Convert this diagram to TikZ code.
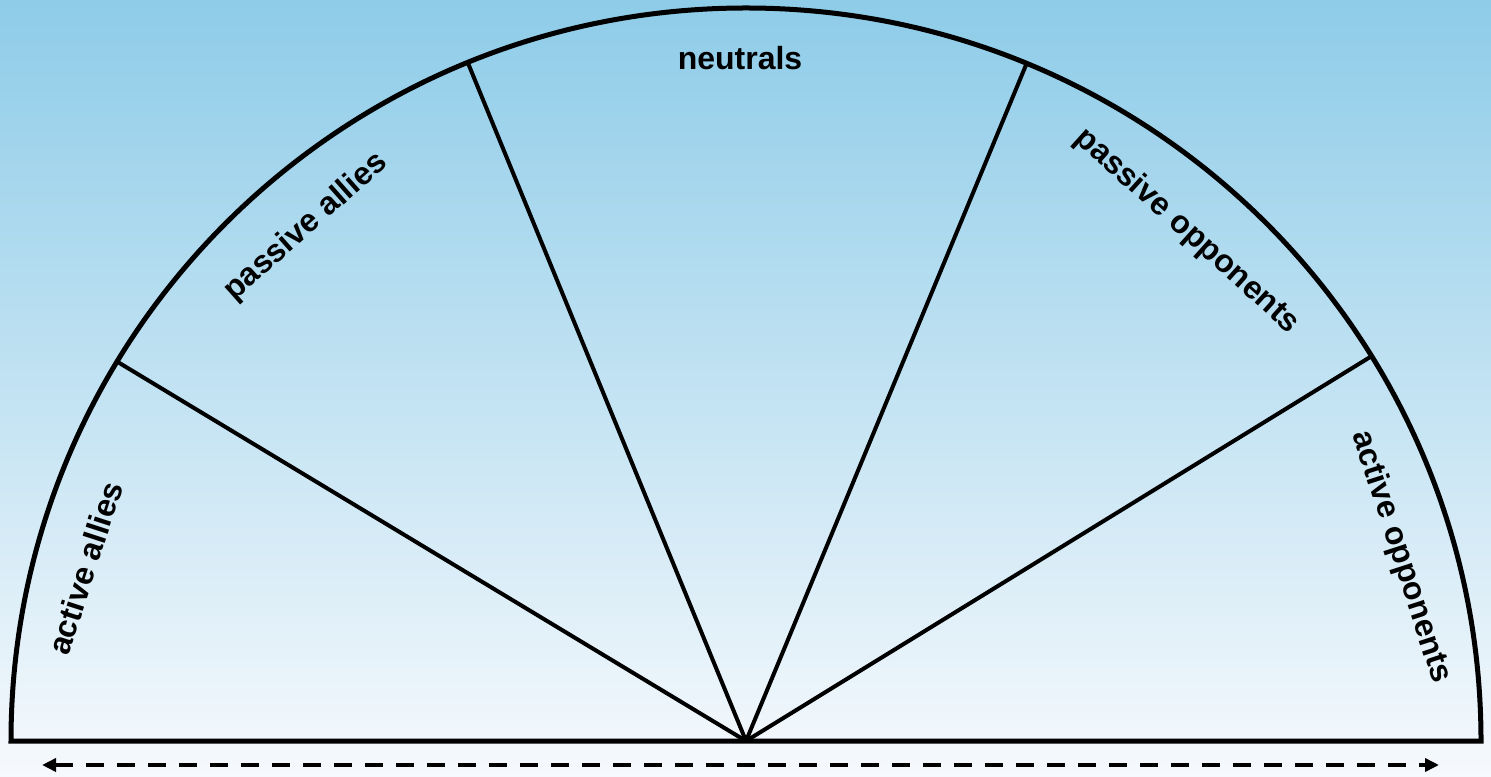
\documentclass[tikz,border=0pt]{standalone}
\usepackage{fontspec}
\setmainfont{Liberation Sans}
\usetikzlibrary{arrows.meta,calc}
\definecolor{skytop}{RGB}{142,204,232}
\definecolor{skybot}{RGB}{246,249,253}
\tikzset{
  outline/.style={line width=2.5pt, line join=miter},
  spoke/.style={line width=2pt},
  lbl/.style={font=\fontsize{16}{19}\selectfont\bfseries, inner sep=0pt},
  scale arrow/.style={line width=2pt, dash pattern=on 9pt off 6.5pt,
    {Triangle[length=7pt,width=6.5pt]}-{Triangle[length=7pt,width=6.5pt]}}
}
\begin{document}
\begin{tikzpicture}[x=0.5pt,y=0.5pt]
  \shade[top color=skytop, bottom color=skybot] (0,0) rectangle (1491,776);
  \useasboundingbox (0,0) rectangle (1491,776);
  \coordinate (O) at (746,35);
  \coordinate (L) at ($(O)+(180:735)$);
  \coordinate (R) at ($(O)+(0:735)$);
  \coordinate (s1) at ($(O)+(148.9:734)$);
  \coordinate (s2) at ($(O)+(112.3:734)$);
  \coordinate (s3) at ($(O)+(67.5:734)$);
  \coordinate (s4) at ($(O)+(31.6:734)$);
  \draw[outline] (L) arc[start angle=180, end angle=0, x radius=735, y radius=733] -- cycle;
  \foreach \s in {s1,s2,s3,s4} \draw[spoke] (O) -- (\s);
  \coordinate (aL) at (42,11);
  \coordinate (aR) at (1439,11);
  \draw[scale arrow] (aL) -- (aR);
  \node[lbl] (neutrals) at (740,718) {neutrals};
  \node[lbl, rotate=41.5] (pallies) at (306,549) {passive allies};
  \node[lbl, rotate=-42] (popp) at (1187,545) {passive opponents};
  \node[lbl, rotate=72] (aallies) at (85,208) {active allies};
  \node[lbl, rotate=-72] (aopp) at (1401,219) {active opponents};
\end{tikzpicture}
\end{document}
